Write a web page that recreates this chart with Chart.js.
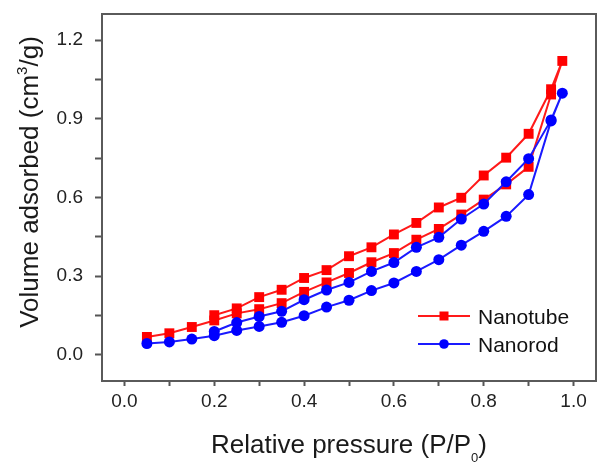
<!DOCTYPE html>
<html><head><meta charset="utf-8">
<script src="https://cdn.jsdelivr.net/npm/chart.js@4.4.1/dist/chart.umd.min.js"></script>
<style>html,body{margin:0;padding:0;background:#fff}#wrap{width:598px;height:464px}</style>
</head><body><div id="wrap"><canvas id="c" width="598" height="464"></canvas></div>
<script>
// Nanotube: adsorption branch, then desorption branch
const nanotubeAdsX = [0.05,0.10,0.15,0.20,0.25,0.30,0.35,0.40,0.45,0.50,0.55,0.60,0.65,0.70,0.75,0.80,0.85,0.90,0.95,0.975];
const nanotubeAdsY = [0.068,0.082,0.106,0.131,0.158,0.174,0.197,0.240,0.276,0.312,0.353,0.388,0.439,0.480,0.535,0.592,0.650,0.717,0.993,1.121];
const nanotubeDesX = [0.95,0.90,0.85,0.80,0.75,0.70,0.65,0.60,0.55,0.50,0.45,0.40,0.35,0.30,0.25,0.20];
const nanotubeDesY = [1.013,0.843,0.752,0.684,0.599,0.562,0.503,0.459,0.410,0.376,0.323,0.293,0.248,0.220,0.177,0.151];
// Nanorod: adsorption branch, then desorption branch
const nanorodAdsX = [0.05,0.10,0.15,0.20,0.25,0.30,0.35,0.40,0.45,0.50,0.55,0.60,0.65,0.70,0.75,0.80,0.85,0.90,0.95,0.975];
const nanorodAdsY = [0.043,0.049,0.060,0.073,0.093,0.108,0.124,0.149,0.182,0.208,0.245,0.274,0.318,0.363,0.418,0.471,0.528,0.611,0.892,0.998];
const nanorodDesX = [0.95,0.90,0.85,0.80,0.75,0.70,0.65,0.60,0.55,0.50,0.45,0.40,0.35,0.30,0.25,0.20];
const nanorodDesY = [0.896,0.748,0.660,0.575,0.518,0.448,0.410,0.352,0.318,0.276,0.247,0.210,0.166,0.146,0.123,0.089];

const seriesNames = ['Nanotube','Nanorod'];
const xTickValues = [0,0.1,0.2,0.3,0.4,0.5,0.6,0.7,0.8,0.9,1.0];
const xTickLabels = ['0.0','','0.2','','0.4','','0.6','','0.8','','1.0'];
const yTickValues = [0,0.15,0.3,0.45,0.6,0.75,0.9,1.05,1.2];
const yTickLabels = ['0.0','','0.3','','0.6','','0.9','','1.2'];

const FONT = '"Liberation Sans", Arial, sans-serif';
function pts(xs, ys){ return xs.map((x,i)=>({x:x, y:ys[i]})); }
function lookup(vals, labels, v){
  for (let i=0;i<vals.length;i++) if (Math.abs(vals[i]-v)<1e-9) return labels[i];
  return '';
}
function zeroPad(s){ s.paddingLeft = 0; s.paddingRight = 0; s.paddingTop = 0; s.paddingBottom = 0; }

const framePlugin = {
  id:'frame',
  afterDatasetsDraw(chart){
    const {ctx, chartArea:a} = chart;
    ctx.save();
    ctx.strokeStyle = '#5a5a5a';
    ctx.lineWidth = 2;
    ctx.strokeRect(a.left, a.top, a.right-a.left, a.bottom-a.top);
    ctx.restore();
  }
};

function drawParts(ctx, parts, cx, cy){
  let total = 0;
  parts.forEach(p=>{ ctx.font = p.size+'px '+FONT; p.w = ctx.measureText(p.t).width; total += p.w; });
  let x = cx - total/2;
  parts.forEach(p=>{ ctx.font = p.size+'px '+FONT; ctx.fillText(p.t, x, cy + (p.dy||0)); x += p.w; });
}

const titlePlugin = {
  id:'titles',
  afterDraw(chart){
    const ctx = chart.ctx;
    ctx.save();
    ctx.fillStyle = '#1a1a1a';
    ctx.textBaseline = 'alphabetic';
    ctx.textAlign = 'left';
    drawParts(ctx, [{t:'Relative pressure (P/P', size:26},{t:'0', size:13, dy:9},{t:')', size:26}], 349, 453);
    ctx.translate(38, 182);
    ctx.rotate(-Math.PI/2);
    drawParts(ctx, [{t:'Volume adsorbed (cm', size:26},{t:'3', size:15, dy:-11},{t:'/g)', size:26}], 0, 0);
    ctx.restore();
  }
};

const legendPlugin = {
  id:'customLegend',
  afterDraw(chart){
    const ctx = chart.ctx;
    ctx.save();
    chart.data.datasets.forEach((ds,i)=>{
      const y = 316 + i*28;
      ctx.strokeStyle = ds.borderColor;
      ctx.lineWidth = 2;
      ctx.beginPath(); ctx.moveTo(418,y); ctx.lineTo(470,y); ctx.stroke();
      ctx.fillStyle = ds.backgroundColor;
      if (ds.pointStyle === 'rect') { ctx.fillRect(444-4.5, y-4.5, 9, 9); }
      else { ctx.beginPath(); ctx.arc(444, y, 4.8, 0, Math.PI*2); ctx.fill(); }
      ctx.fillStyle = '#111';
      ctx.font = '21px '+FONT;
      ctx.textBaseline = 'alphabetic';
      ctx.fillText(ds.label, 478, y+7.5);
    });
    ctx.restore();
  }
};

new Chart(document.getElementById('c'), {
  type:'scatter',
  data:{
    datasets:[
      {label:seriesNames[0], data:pts(nanotubeAdsX.concat(nanotubeDesX), nanotubeAdsY.concat(nanotubeDesY)),
       showLine:true, borderColor:'#ff1a1a', backgroundColor:'#ff0000', borderWidth:2,
       pointStyle:'rect', pointRadius:7, pointBorderWidth:0, order:1},
      {label:seriesNames[1], data:pts(nanorodAdsX.concat(nanorodDesX), nanorodAdsY.concat(nanorodDesY)),
       showLine:true, borderColor:'#1a1aff', backgroundColor:'#0000ff', borderWidth:2,
       pointStyle:'circle', pointRadius:5.5, pointBorderWidth:0, order:0}
    ]
  },
  options:{
    responsive:false, animation:false, devicePixelRatio:1,
    layout:{autoPadding:false, padding:{top:14, right:2, left:0, bottom:0}},
    plugins:{legend:{display:false}, tooltip:{enabled:false}},
    scales:{
      x:{type:'linear', min:-0.05, max:1.05,
         afterBuildTicks(s){ s.ticks = xTickValues.map(v=>({value:v})); },
         afterFit(s){ s.height = 83; zeroPad(s); },
         ticks:{autoSkip:false, maxRotation:0, padding:4, color:'#222', font:{family:FONT, size:19},
           callback:(v)=>lookup(xTickValues, xTickLabels, v)},
         grid:{drawOnChartArea:false, drawTicks:true, tickLength:5, tickColor:'#555', tickWidth:2},
         border:{display:false}, title:{display:false}},
      y:{type:'linear', min:-0.1, max:1.3,
         afterBuildTicks(s){ s.ticks = yTickValues.map(v=>({value:v})); },
         afterFit(s){ s.width = 102; zeroPad(s); },
         ticks:{autoSkip:false, padding:12, color:'#222', font:{family:FONT, size:19},
           callback:(v)=>lookup(yTickValues, yTickLabels, v)},
         grid:{drawOnChartArea:false, drawTicks:true, tickLength:7, tickColor:'#555', tickWidth:2},
         border:{display:false}, title:{display:false}}
    }
  },
  plugins:[framePlugin, titlePlugin, legendPlugin]
});
</script></body></html>
